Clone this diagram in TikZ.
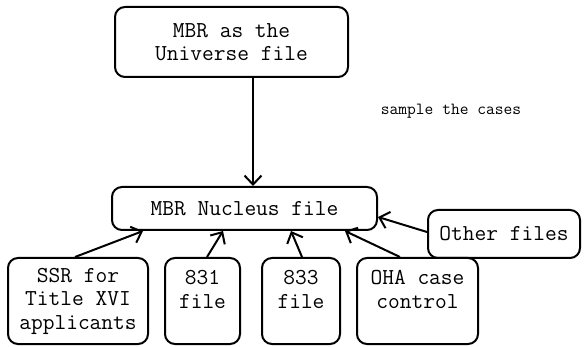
\documentclass[tikz,border=0pt]{standalone}
\usetikzlibrary{arrows.meta}
\begin{document}
\begin{tikzpicture}[x=1pt,y=-1pt,
  caixa/.style={draw,line width=2pt,rounded corners=10pt,align=center,inner sep=1pt,
    font=\ttfamily\fontsize{22.8}{23.5}\selectfont},
  seta/.style={line width=2pt,-{Straight Barb[length=9pt,width=17pt,line width=2pt]}}]

\useasboundingbox (0,0) rectangle (586,347);

% Arquivo universo
\node[caixa,minimum width=233pt,minimum height=70pt] (universo) at (231.5,42) {MBR as the\\Universe file};

% Arquivo nucleo
\node[caixa,minimum width=265pt,minimum height=43pt] (nucleo) at (244.5,208.5) {MBR Nucleus file};

% Outros arquivos
\node[caixa,minimum width=152pt,minimum height=48pt] (outros) at (504,234) {Other files};

% Arquivos de origem (embaixo)
\node[caixa,minimum width=140pt,minimum height=86pt] (ssr) at (78,301) {SSR for\\Title XVI\\applicants};
\node[caixa,minimum width=75pt,minimum height=86pt] (f831) at (202.5,301) {831\\file\\~};
\node[caixa,minimum width=78pt,minimum height=86pt] (f833) at (301,301) {833\\file\\~};
\node[caixa,minimum width=121pt,minimum height=86pt] (oha) at (417.5,301) {OHA case\\control\\~};

% Rotulo da amostragem
\node[font=\ttfamily\fontsize{17}{20}\selectfont] (amostra) at (451,111) {sample the cases};

% Setas
\draw[seta] ([xshift=21.5pt]universo.south) -- ([xshift=8.5pt]nucleo.north);
\draw[seta] ([xshift=-3pt]ssr.north) -- ([xshift=-101.5pt]nucleo.south);
\draw[seta] ([xshift=4.5pt]f831.north) -- ([xshift=-21.5pt]nucleo.south);
\draw[seta] ([xshift=1pt]f833.north) -- ([xshift=46.5pt]nucleo.south);
\draw[seta] ([xshift=-17.5pt]oha.north) -- ([xshift=100.5pt]nucleo.south);
\draw[seta] ([yshift=2pt]outros.west) -- ([yshift=-8.5pt]nucleo.east);

\end{tikzpicture}
\end{document}
